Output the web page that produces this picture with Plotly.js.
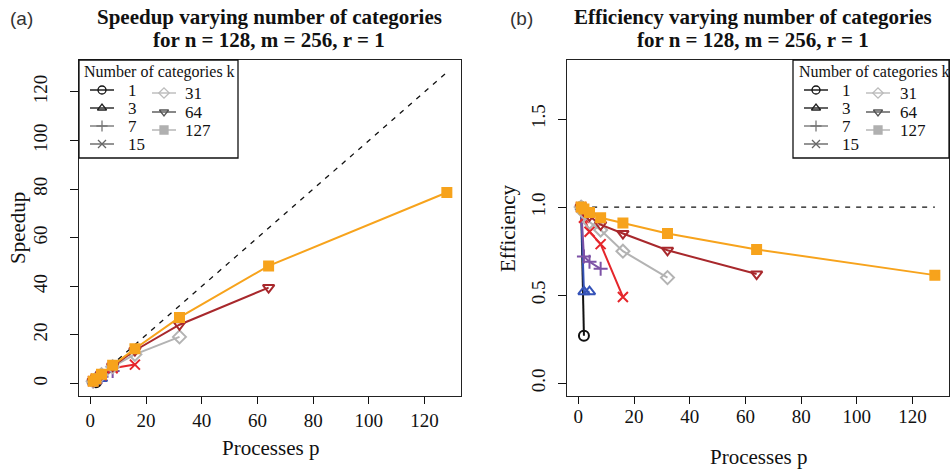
<!DOCTYPE html>
<html>
<head>
<meta charset="utf-8">
<script src="https://cdn.plot.ly/plotly-3.0.1.min.js"></script>
<style>html,body{margin:0;padding:0;background:#fff}#chart{width:950px;height:470px}</style>
</head>
<body>
<div id="chart"></div>
<script>
// ---------------- data ----------------
const processes = [1, 2, 4, 8, 16, 32, 64, 128];
const categoriesK = ["1", "3", "7", "15", "31", "64", "127"];

const speedup_k1   = [1, 0.54];
const speedup_k3   = [1, 1.04, 2.08];
const speedup_k7   = [1, 1.44, 2.76, 5.2];
const speedup_k15  = [1, 1.88, 3.44, 6.32, 7.8];
const speedup_k31  = [1, 1.94, 3.66, 6.96, 12.0, 19.2];
const speedup_k64  = [1, 1.96, 3.8, 7.2, 13.6, 24.2, 39.5];
const speedup_k127 = [1, 1.98, 3.88, 7.5, 14.3, 27.2, 48.4, 78.6];

const efficiency_k1   = [1, 0.27];
const efficiency_k3   = [1, 0.52, 0.52];
const efficiency_k7   = [1, 0.72, 0.69, 0.65];
const efficiency_k15  = [1, 0.94, 0.86, 0.79, 0.49];
const efficiency_k31  = [1, 0.97, 0.915, 0.87, 0.75, 0.60];
const efficiency_k64  = [1, 0.98, 0.95, 0.90, 0.85, 0.755, 0.62];
const efficiency_k127 = [1, 0.99, 0.97, 0.94, 0.91, 0.85, 0.76, 0.614];

const idealP = [1, 128];
const idealSpeedup = [1, 128];
const idealEfficiency = [1, 1];

const xTicks = [0, 20, 40, 60, 80, 100, 120];
const ySpeedTicks = [0, 20, 40, 60, 80, 100, 120];
const yEffTicks = [0, 0.5, 1.0, 1.5];
const yEffTickText = ["0.0", "0.5", "1.0", "1.5"];

// ---------------- styles ----------------
const speedups = [speedup_k1, speedup_k3, speedup_k7, speedup_k15, speedup_k31, speedup_k64, speedup_k127];
const effs = [efficiency_k1, efficiency_k3, efficiency_k7, efficiency_k15, efficiency_k31, efficiency_k64, efficiency_k127];
const colors = ["#111111", "#3553b8", "#7d52a6", "#e5262b", "#b3b3b3", "#a8282c", "#f7a31c"];
const symbols = ["circle-open", "triangle-up-open", "cross-thin-open", "x-thin-open", "diamond-open", "triangle-down-open", "square"];
const legendColors = ["#111111", "#222222", "#777777", "#666666", "#bbbbbb", "#555555", "#b0b0b0"];

const SERIF = '"Liberation Serif", "Times New Roman", serif';
const SANS = '"Liberation Sans", Arial, sans-serif';
const traces = [];

function addSeries(yArrays, xa, ya) {
  yArrays.forEach((ys, i) => {
    traces.push({
      x: processes.slice(0, ys.length), y: ys,
      xaxis: xa, yaxis: ya, type: "scatter", mode: "lines+markers",
      line: {color: colors[i], width: 2},
      marker: {symbol: symbols[i], size: i === 6 ? 9 : 10, color: colors[i],
               line: {color: colors[i], width: 2}},
      showlegend: false, hoverinfo: "skip"
    });
  });
}
traces.push({x: idealP, y: idealSpeedup, xaxis: "x", yaxis: "y", mode: "lines",
  line: {color: "#111", width: 1.3, dash: "5px,6px"}, showlegend: false, hoverinfo: "skip"});
traces.push({x: idealP, y: idealEfficiency, xaxis: "x2", yaxis: "y2", mode: "lines",
  line: {color: "#111", width: 1.3, dash: "5px,6px"}, showlegend: false, hoverinfo: "skip"});
addSeries(speedups, "x", "y");
addSeries(effs, "x2", "y2");

// ---------------- hand-drawn R style legends (pixel overlay axis) ----------------
const shapes = [];
const annotations = [];
const legendBoxes = [
  {left: 79, right: 238, col1Line: [90, 114], col2Line: [152, 176], col1Text: 126, col2Text: 183, title: 82},
  {left: 793, right: 949, col1Line: [804, 828], col2Line: [866, 890], col1Text: 840, col2Text: 898, title: 797}
];
const col1Rows = [90, 108, 126, 144];
const col2Rows = [93, 112, 130];
const legTop = 60, legBottom = 158;
const legX = [], legY = [], legSym = [], legCol = [];
legendBoxes.forEach(b => {
  shapes.push({type: "rect", xref: "x3", yref: "y3", x0: b.left, x1: b.right, y0: legTop, y1: legBottom,
    line: {color: "#111", width: 1.3}, fillcolor: "rgba(255,255,255,1)", layer: "below"});
  annotations.push({xref: "x3", yref: "y3", x: b.title, y: 72, xanchor: "left", yanchor: "middle",
    text: "Number of categories k", showarrow: false, font: {family: SERIF, size: 16, color: "#111"}});
  categoriesK.forEach((k, i) => {
    const inCol1 = i < 4;
    const yy = inCol1 ? col1Rows[i] : col2Rows[i - 4];
    const ln = inCol1 ? b.col1Line : b.col2Line;
    shapes.push({type: "line", xref: "x3", yref: "y3", x0: ln[0], x1: ln[1], y0: yy, y1: yy,
      line: {color: legendColors[i], width: 1.4}});
    legX.push((ln[0] + ln[1]) / 2); legY.push(yy); legSym.push(symbols[i]); legCol.push(legendColors[i]);
    annotations.push({xref: "x3", yref: "y3", x: inCol1 ? b.col1Text : b.col2Text, y: yy,
      xanchor: "left", yanchor: "middle", text: k, showarrow: false,
      font: {family: SERIF, size: 17, color: "#111"}});
  });
});
traces.push({x: legX, y: legY, xaxis: "x3", yaxis: "y3", mode: "markers",
  marker: {symbol: legSym, size: 8, color: legCol, line: {color: legCol, width: 1.3}},
  showlegend: false, hoverinfo: "skip"});

// ---------------- titles and labels ----------------
function ann(x, y, text, font, extra) {
  annotations.push(Object.assign({xref: "x3", yref: "y3", x: x, y: y, text: text, showarrow: false,
    xanchor: "center", yanchor: "middle", font: font}, extra || {}));
}
const titleFont = {family: SERIF, size: 21, color: "#111"};
ann(269, 17, "<b>Speedup varying number of categories</b>", titleFont);
ann(269, 40, "<b>for n = 128, m = 256, r = 1</b>", titleFont);
ann(753, 17, "<b>Efficiency varying number of categories</b>", titleFont);
ann(753, 40, "<b>for n = 128, m = 256, r = 1</b>", titleFont);
ann(21, 18, "(a)", {family: SANS, size: 19, color: "#333"});
ann(521, 18, "(b)", {family: SANS, size: 19, color: "#333"});
const axTitleFont = {family: SERIF, size: 21, color: "#111"};
ann(270, 448, "Processes p", axTitleFont);
ann(758, 457, "Processes p", axTitleFont);
ann(18, 228, "Speedup", axTitleFont, {textangle: -90});
ann(508, 228, "Efficiency", axTitleFont, {textangle: -90});

// ---------------- axes ----------------
const W = 950, H = 470;
const yDom = [1 - 396 / H, 1 - 60 / H];
const tickFont = {family: SERIF, size: 19, color: "#111"};
function xAxis(dom, anchor, standoff) {
  return {domain: dom, anchor: anchor, range: [-4.08, 133.08], tickvals: xTicks, ticks: "outside",
    ticklen: 7, tickwidth: 1, tickcolor: "#111", showline: true, mirror: true, linecolor: "#222",
    linewidth: 1.3, showgrid: false, zeroline: false, tickfont: tickFont, ticklabelstandoff: standoff,
    fixedrange: true};
}
function yAxis(anchor, range, tv, tt, standoff) {
  const a = {domain: yDom, anchor: anchor, range: range, tickvals: tv, ticks: "outside", ticklen: 8,
    tickwidth: 1, tickcolor: "#111", showline: true, mirror: true, linecolor: "#222", linewidth: 1.3,
    showgrid: false, zeroline: false, tickfont: tickFont, tickangle: -90, ticklabelstandoff: standoff,
    fixedrange: true};
  if (tt) a.ticktext = tt;
  return a;
}

const layout = {
  width: W, height: H, margin: {l: 0, r: 0, t: 0, b: 0},
  paper_bgcolor: "#ffffff", plot_bgcolor: "rgba(0,0,0,0)", showlegend: false,
  xaxis: xAxis([79 / W, 461 / W], "y", 0),
  yaxis: yAxis("x", [-5.12, 133.12], ySpeedTicks, null, 15),
  xaxis2: xAxis([567 / W, 949 / W], "y2", -4),
  yaxis2: yAxis("x2", [-0.072, 1.835], yEffTicks, yEffTickText, 5),
  xaxis3: {domain: [0, 1], anchor: "y3", range: [0, W], visible: false, fixedrange: true},
  yaxis3: {domain: [0, 1], anchor: "x3", range: [H, 0], visible: false, fixedrange: true},
  shapes: shapes, annotations: annotations
};

Plotly.newPlot("chart", traces, layout, {staticPlot: true, displayModeBar: false});
</script>
</body>
</html>
